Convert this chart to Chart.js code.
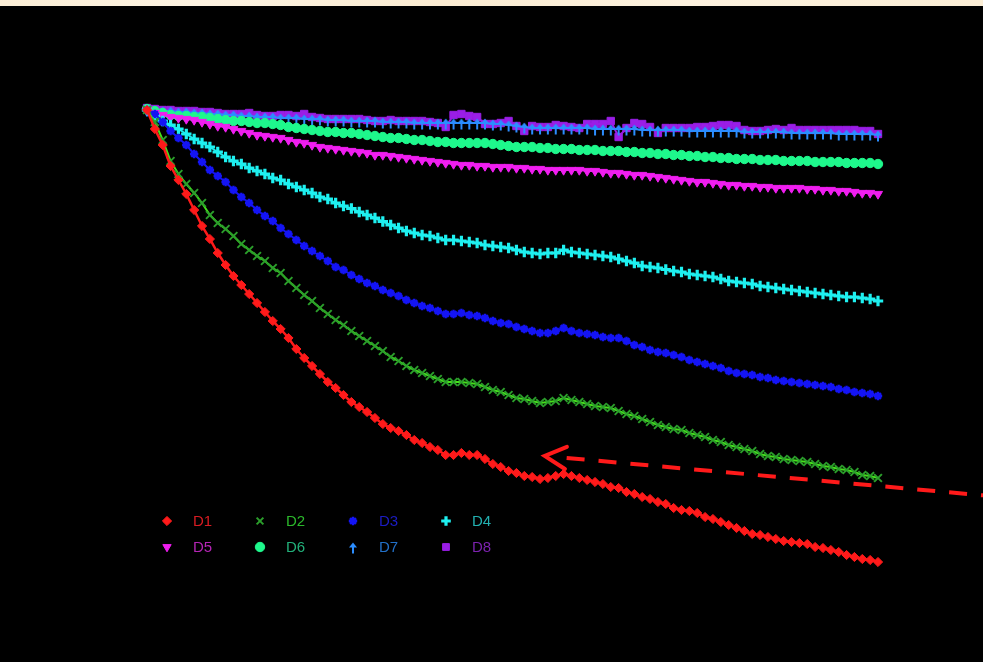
<!DOCTYPE html>
<html>
<head>
<meta charset="utf-8">
<script src="https://cdn.jsdelivr.net/npm/chart.js@4.4.1/dist/chart.umd.min.js"></script>
<style>
  html, body { margin: 0; padding: 0; background: #000; }
  #wrap { position: relative; width: 983px; height: 662px; overflow: hidden; }
  #topband { position: absolute; left: 0; top: 0; width: 983px; height: 6px;
    background: linear-gradient(90deg, #fbeed6 0%, #fdf3e2 20%, #fbecd2 45%, #fdf2df 70%, #fbeed6 100%); z-index: 2; }
  canvas { display: block; }
</style>
</head>
<body>
<div id="wrap">
  <div id="topband"></div>
  <canvas id="c" width="983" height="662"></canvas>
</div>
<script>
// ---- data ----
const timePoints = [0,1,2,3,4,5,6,7,8,9,10,11,12,13,14,15,16,17,18,19,20,21,22,23,24,25,26,27,28,29,
  30,31,32,33,34,35,36,37,38,39,40,41,42,43,44,45,46,47,48,49,50,51,52,53,54,55,56,57,58,59,
  60,61,62,63,64,65,66,67,68,69,70,71,72,73,74,75,76,77,78,79,80,81,82,83,84,85,86,87,88,89,90,91,92,93];

const seriesNames = ['D1','D2','D3','D4','D5','D6','D7','D8'];

const D1 = [99.8,96,92.8,88.6,85.8,83,79.8,76.6,74,71.2,
  68.8,66.6,64.8,63,61.2,59.4,57.6,56,54.2,52,
  50.2,48.6,47,45.4,44.2,42.8,41.4,40.4,39.4,38.2,
  37,36.2,35.6,34.8,33.8,33.2,32.4,31.8,30.8,30.8,
  31.2,30.8,30.8,30,29,28.4,27.6,27.2,26.6,26.4,
  26,26.2,26.6,27,26.6,26.2,25.8,25.4,25,24.4,
  24.2,23.4,23,22.4,22,21.4,21,20.2,19.8,19.6,
  19.2,18.4,18,17.4,16.8,16.2,15.6,15,14.8,14.4,
  14,13.6,13.4,13.2,13,12.4,12.2,11.8,11.4,10.8,
  10.4,10,9.8,9.4];

const D2 = [99.8,97.4,93.8,89.6,87,85,83.2,81.2,78.8,77.2,
  76,74.6,73,71.8,70.6,69.6,68.2,67.2,65.6,64.2,
  62.8,61.6,60.2,59,57.8,56.8,55.6,54.6,53.6,52.6,
  51.6,50.4,49.6,48.6,47.8,47.2,46.6,46,45.4,45.4,
  45.4,45.2,45,44.4,43.8,43.4,42.8,42.2,42,41.6,
  41.2,41.4,41.6,42.2,41.8,41.4,41,40.6,40.4,40.2,
  39.6,39,38.6,38,37.4,36.8,36.4,36,35.8,35.2,
  34.8,34.4,33.8,33.4,32.8,32.4,32,31.6,31,30.6,
  30.4,30,29.8,29.6,29.4,29,28.6,28.4,28,27.8,
  27.4,26.8,26.6,26.2];

const D3 = [99.8,99,97.4,95.6,94.2,92.8,91,89.4,87.8,86.6,
  85.4,83.8,82.4,81.2,79.8,78.6,77.6,76.2,75,73.8,
  72.6,71.6,70.6,69.6,68.4,67.8,66.8,66,65.2,64.6,
  63.8,63.2,62.6,61.8,61.2,60.6,60.2,59.6,59,59,
  59.2,58.8,58.6,58.2,57.6,57.2,57,56.4,56,55.6,
  55.2,55.2,55.6,56.2,55.6,55.2,55,54.8,54.4,54.2,
  54.2,53.6,52.8,52.4,51.8,51.4,51.2,50.8,50.4,49.8,
  49.4,49,48.6,48.2,47.6,47.2,47,46.8,46.4,46.2,
  45.8,45.6,45.4,45.2,45,44.8,44.6,44.4,44,43.8,
  43.4,43.2,43,42.6];

const D4 = [99.8,98.6,97.6,96.8,96,95,94,93.2,92.4,91.4,
  90.4,89.6,89,88.2,87.6,87,86.2,85.8,85,84.4,
  83.8,83.2,82.4,82,81.2,80.6,80.1,79.4,78.8,78.2,
  77.5,76.8,76.2,75.6,75.2,74.8,74.6,74.2,73.8,73.8,
  73.6,73.4,73.2,72.8,72.6,72.4,72.2,71.8,71.4,71.2,
  71,71.2,71.2,71.8,71.4,71.2,71,70.8,70.6,70.4,
  70,69.6,69.2,68.6,68.4,68.2,67.9,67.6,67.4,67,
  66.8,66.6,66.4,66,65.6,65.4,65.2,65,64.6,64.4,
  64.2,64,63.8,63.6,63.4,63.2,63,62.8,62.6,62.4,
  62.4,62.2,62,61.6];

const D5 = [99.8,99.2,98.8,98.4,98.2,98,97.8,97.4,97,96.6,
  96.4,96,95.6,95.2,94.8,94.6,94.4,94.2,93.8,93.4,
  93.2,92.8,92.4,92.2,92,91.8,91.6,91.4,91.2,90.8,
  90.8,90.6,90.4,90.2,90,89.8,89.6,89.4,89.2,89,
  88.8,88.8,88.6,88.6,88.4,88.4,88.4,88.2,88.2,88,
  88,87.8,87.8,87.8,87.8,87.8,87.6,87.6,87.4,87.2,
  87.2,87,86.8,86.8,86.6,86.4,86.2,86,85.8,85.6,
  85.4,85.4,85.2,85,84.8,84.8,84.6,84.6,84.4,84.4,
  84.2,84.2,84.2,84.2,84,84,83.8,83.8,83.6,83.6,
  83.4,83.2,83.2,83];

const D6 = [100,99.6,99.2,98.8,98.6,98.6,98.4,98.4,98.2,98,
  97.8,97.6,97.6,97.4,97.2,97.2,97,96.8,96.4,96.2,
  96,95.8,95.6,95.4,95.4,95.2,95.2,95,94.8,94.6,
  94.4,94.2,94.2,94,93.8,93.8,93.6,93.4,93.4,93.2,
  93.2,93.2,93.2,93.2,93,92.8,92.6,92.4,92.4,92.4,
  92.2,92.2,92,92,92,91.8,91.8,91.8,91.6,91.6,
  91.6,91.4,91.4,91.2,91.2,91,91,90.8,90.8,90.6,
  90.6,90.4,90.4,90.2,90.2,90,90,90,89.8,89.8,
  89.8,89.6,89.6,89.6,89.6,89.4,89.4,89.4,89.4,89.2,
  89.2,89.2,89.2,89];

const D7 = [99.8,99.8,99.6,99.6,99.4,99.4,99.2,99.2,99,99,
  98.8,98.8,98.6,98.6,98.4,98.4,98.4,98.2,98.2,98.2,
  98,98,98,97.8,97.8,97.8,97.6,97.6,97.6,97.6,
  97.4,97.4,97.4,97.4,97.2,97.2,97.2,97.2,97.2,97.2,
  97.2,97.2,97.2,97.2,97,97,96.8,96.6,96.4,96.2,
  96.2,96.2,96.2,96.2,96.2,96.2,96.2,96,96,96,
  96,96,96,95.8,95.8,95.8,95.8,95.8,95.8,95.6,
  95.6,95.6,95.6,95.6,95.6,95.6,95.4,95.4,95.4,95.4,
  95.4,95.4,95.2,95.2,95.2,95.2,95.2,95.2,95,95,
  95,95,95,94.8];

const D8 = [100.2,100,99.8,99.8,99.6,99.6,99.6,99.4,99.4,99.2,
  99,99,99,99.2,98.8,98.6,98.6,98.8,98.8,98.6,
  99,98.4,98.2,98,98,98,98,98,97.8,97.6,
  97.6,97.8,97.6,97.6,97.6,97.6,97.4,97.2,96.4,98.8,
  99,98.6,98.4,97,97,97.2,97.6,96.6,95.6,96.6,
  96.4,96.4,96.8,96.6,96.4,96.2,97,97,97,97.6,
  94.4,96.2,97.2,97,96.4,95.2,96.2,96.2,96.2,96.2,
  96.4,96.4,96.6,96.8,96.8,96.6,95.8,95.6,95.6,95.8,
  96,95.8,96.2,95.8,95.8,95.8,95.8,95.8,95.8,95.8,
  95.8,95.6,95.6,95];

// annotation arrow (data coordinates: [time index, value])
const arrowTail = [106.6, 22.7];
const arrowTip = [50.6, 30.6];

// ---- styling ----
function makeArrowImage(color) {
  const c = document.createElement('canvas');
  c.width = 10; c.height = 16;
  const g = c.getContext('2d');
  g.fillStyle = color;
  g.beginPath();
  g.moveTo(5, 3.5); g.lineTo(9, 8.5); g.lineTo(1, 8.5); g.closePath();
  g.fill();
  g.fillRect(4, 8, 2, 6.5);
  return c;
}
const arrowImg = makeArrowImage('#2b8dff');

const styles = [
  { line: '#ff1a1a', point: '#ff1a1a', text: '#d81c22', style: 'rectRot', r: 4.6, bw: 1, lw: 2.5, rot: 0 },
  { line: '#45e01c', point: '#2b9e2b', text: '#2bb82b', style: 'crossRot', r: 5.5, bw: 2, lw: 2, rot: 0 },
  { line: '#1414f5', point: '#1414f5', text: '#1c1cc4', style: 'star', r: 4.2, bw: 2.4, lw: 2, rot: 0 },
  { line: '#1ef0f0', point: '#1ef0f0', text: '#22b0b0', style: 'cross', r: 5.2, bw: 3.2, lw: 2, rot: 0 },
  { line: '#f01ef0', point: '#f01ef0', text: '#b424b4', style: 'triangle', r: 5.2, bw: 1, lw: 2, rot: 180 },
  { line: '#1ef88c', point: '#1ef88c', text: '#22b07a', style: 'circle', r: 4.7, bw: 1, lw: 2, rot: 0 },
  { line: '#2b8dff', point: '#2b8dff', text: '#2270c8', style: arrowImg, r: 5, bw: 1, lw: 2, rot: 0 },
  { line: '#9a1ee6', point: '#9a1ee6', text: '#7c22ae', style: 'rect', r: 5.2, bw: 1, lw: 2, rot: 0 }
];
const seriesData = [D1, D2, D3, D4, D5, D6, D7, D8];

const datasets = seriesNames.map((name, i) => ({
  label: name,
  data: seriesData[i],
  borderColor: styles[i].line,
  backgroundColor: styles[i].point,
  pointBackgroundColor: styles[i].point,
  pointBorderColor: styles[i].point,
  pointStyle: styles[i].style,
  pointRadius: styles[i].r,
  pointBorderWidth: styles[i].bw,
  pointRotation: styles[i].rot,
  borderWidth: styles[i].lw,
  tension: 0,
  clip: false,
  order: i
}));

const legendPlugin = {
  id: 'gridLegend',
  afterDraw(chart, args, opts) {
    const ctx = chart.ctx;
    const helpers = Chart.helpers;
    ctx.save();
    ctx.font = opts.font;
    ctx.textBaseline = 'middle';
    ctx.textAlign = 'left';
    chart.data.datasets.forEach((ds, i) => {
      const col = i % opts.cols;
      const row = Math.floor(i / opts.cols);
      const x = opts.x0 + col * opts.colGap;
      const y = opts.y0 + row * opts.rowGap;
      const st = styles[i];
      ctx.save();
      ctx.fillStyle = st.point;
      ctx.strokeStyle = st.point;
      ctx.lineWidth = st.bw;
      helpers.drawPoint(ctx, { pointStyle: st.style, rotation: st.rot, radius: Math.min(st.r, 4.8), borderWidth: st.bw }, x, y);
      ctx.restore();
      ctx.fillStyle = st.text;
      ctx.fillText(ds.label, x + opts.textOffset, y + 1);
    });
    ctx.restore();
  }
};

const annotationPlugin = {
  id: 'dashedArrow',
  afterDatasetsDraw(chart, args, opts) {
    const ctx = chart.ctx;
    const xs = chart.scales.x, ys = chart.scales.y;
    const tx = xs.getPixelForValue(arrowTip[0]), ty = ys.getPixelForValue(arrowTip[1]);
    const ex = xs.getPixelForValue(arrowTail[0]), ey = ys.getPixelForValue(arrowTail[1]);
    const ang = Math.atan2(ey - ty, ex - tx);
    ctx.save();
    ctx.strokeStyle = opts.color;
    ctx.lineWidth = opts.width;
    // dashed shaft
    ctx.setLineDash(opts.dash);
    ctx.beginPath();
    const sx = tx + Math.cos(ang) * opts.gapFromTip, sy = ty + Math.sin(ang) * opts.gapFromTip;
    ctx.moveTo(sx, sy);
    ctx.lineTo(ex, ey);
    ctx.stroke();
    // open arrowhead
    ctx.setLineDash([]);
    ctx.lineCap = 'round';
    ctx.lineJoin = 'miter';
    ctx.beginPath();
    ctx.moveTo(tx + Math.cos(ang - opts.headAngle) * opts.headLen, ty + Math.sin(ang - opts.headAngle) * opts.headLen);
    ctx.lineTo(tx, ty);
    ctx.lineTo(tx + Math.cos(ang + opts.headAngle) * opts.headLen, ty + Math.sin(ang + opts.headAngle) * opts.headLen);
    ctx.stroke();
    ctx.restore();
  }
};

new Chart(document.getElementById('c'), {
  type: 'line',
  data: { labels: timePoints, datasets },
  options: {
    responsive: false,
    animation: false,
    events: [],
    layout: { padding: { left: 147, right: 105, top: 84, bottom: 53 } },
    scales: {
      x: { type: 'category', display: false, offset: false },
      y: { type: 'linear', display: false, min: 0, max: 105 }
    },
    plugins: {
      legend: { display: false },
      tooltip: { enabled: false },
      gridLegend: { font: '15px "Liberation Sans", Arial, sans-serif', x0: 167, y0: 521, cols: 4, colGap: 93, rowGap: 26, textOffset: 26 },
      dashedArrow: { color: '#ff1a1a', width: 4, dash: [18, 14], gapFromTip: 22, headLen: 24, headAngle: 0.48 }
    }
  },
  plugins: [legendPlugin, annotationPlugin]
});
</script>
</body>
</html>
